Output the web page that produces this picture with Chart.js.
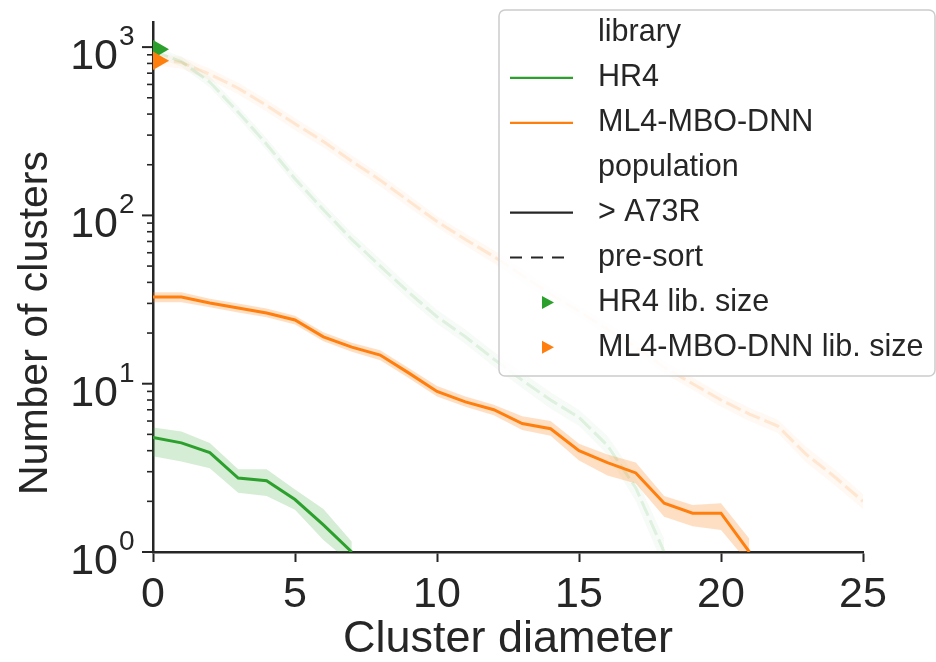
<!DOCTYPE html>
<html>
<head>
<meta charset="utf-8">
<title>Cluster diameter</title>
<script src="https://cdn.jsdelivr.net/npm/chart.js@4.4.1/dist/chart.umd.min.js"></script>
<style>
  body { margin: 0; background: #fff; }
  canvas { display: block; }
</style>
</head>
<body>
<canvas id="myChart" width="936" height="662"></canvas>
<script>
// x축: 클러스터 지름
const diameters = [0, 1, 2, 3, 4, 5, 6, 7, 8, 9, 10, 11, 12, 13, 14, 15, 16, 17, 18, 19, 20, 21, 22, 23, 24, 25];

// HR4 (> A73R) 평균과 신뢰구간
const hr4Sorted   = [4.8, 4.45, 3.9, 2.75, 2.65, 2.05, 1.45, 1.0];
const hr4SortedHi = [5.5, 5.2, 4.45, 3.1, 3.1, 2.35, 1.8, 1.15];
const hr4SortedLo = [3.7, 3.45, 3.15, 2.25, 2.15, 1.78, 1.18, 0.85];

// ML4-MBO-DNN (> A73R)
const ml4Sorted   = [32.7, 32.7, 30.2, 28.2, 26.3, 23.9, 19, 16.5, 14.8, 11.6, 9.0, 7.8, 7.0, 5.8, 5.4, 4.0, 3.4, 2.95, 1.95, 1.7, 1.7, 1.0];
const ml4SortedHi = [35, 35, 32, 30, 28, 25.3, 20.2, 17.5, 15.8, 12.4, 9.7, 8.4, 7.5, 6.4, 6.0, 4.4, 3.8, 3.4, 2.15, 1.9, 1.95, 1.2];
const ml4SortedLo = [30.5, 30.5, 28.5, 26.5, 24.8, 22.5, 17.9, 15.5, 13.8, 10.8, 8.4, 7.3, 6.5, 5.3, 4.9, 3.5, 2.85, 2.55, 1.62, 1.42, 1.35, 0.85];

// pre-sort 분포 (흐리게 그림)
const hr4Presort   = [950, 820, 620, 410, 265, 165, 108, 72, 50, 35, 25, 19, 14, 10.5, 8.0, 6.3, 4.3, 2.4, 1.0];
const hr4PresortHi = [1010, 880, 670, 445, 288, 180, 118, 79, 55, 38.5, 27.5, 21, 15.5, 11.7, 8.9, 7.0, 4.9, 2.8, 1.2];
const hr4PresortLo = [890, 765, 575, 378, 244, 151, 99, 66, 45.5, 31.5, 22.7, 17.2, 12.6, 9.4, 7.1, 5.6, 3.8, 2.0, 0.8];

const ml4Presort   = [850, 810, 690, 570, 450, 350, 275, 210, 162, 122, 92, 72, 57, 44, 34, 27, 21, 16.5, 12.5, 10, 8.0, 6.6, 5.6, 3.8, 2.8, 2.0];
const ml4PresortHi = [920, 875, 745, 615, 486, 378, 297, 227, 175, 132, 99, 78, 62, 48, 37, 29, 23, 18, 13.6, 10.9, 8.7, 7.2, 6.1, 4.2, 3.1, 2.2];
const ml4PresortLo = [785, 745, 635, 525, 414, 322, 253, 193, 149, 112, 85, 66, 52, 40, 31, 25, 19.3, 15.2, 11.5, 9.2, 7.3, 6.0, 5.1, 3.4, 2.5, 1.8];

// 라이브러리 크기 (x = 0 위치의 삼각형)
const hr4LibSize = 970;
const ml4LibSize = 830;

// y축 눈금 (10^n)
const decades = [1, 10, 100, 1000];
const decadeExponents = ['0', '1', '2', '3'];

const legendRows = [
  { text: 'library' },
  { text: 'HR4', line: 'green' },
  { text: 'ML4-MBO-DNN', line: 'orange' },
  { text: 'population' },
  { text: '> A73R', line: 'solid' },
  { text: 'pre-sort', line: 'dashed' },
  { text: 'HR4 lib. size', marker: 'green' },
  { text: 'ML4-MBO-DNN lib. size', marker: 'orange' }
];

const GREEN = '#2ca02c';
const ORANGE = '#ff7f0e';
const AXIS = '#262626';
const LEGEND_DASH = [12, 9];
const PRESORT_DASH = [16, 5];

function rgba(hex, a) {
  const n = parseInt(hex.slice(1), 16);
  return `rgba(${n >> 16}, ${(n >> 8) & 255}, ${n & 255}, ${a})`;
}

function toPoints(values) {
  return values.map((v, i) => ({ x: diameters[i], y: v }));
}

// 신뢰구간 띠 (hi -> lo 채우기)
function band(hi, lo, color, alpha, order) {
  return [
    { data: toPoints(hi), fill: '+1', backgroundColor: rgba(color, alpha), borderColor: 'rgba(0,0,0,0)', borderWidth: 0, pointRadius: 0, order },
    { data: toPoints(lo), fill: false, borderColor: 'rgba(0,0,0,0)', borderWidth: 0, pointRadius: 0, order }
  ];
}

function line(values, color, width, dash, order) {
  return { data: toPoints(values), fill: false, borderColor: color, borderWidth: width, borderDash: dash, pointRadius: 0, tension: 0, order };
}

const datasets = [
  ...band(ml4PresortHi, ml4PresortLo, ORANGE, 0.05, 9),
  line(ml4Presort, rgba(ORANGE, 0.15), 3, PRESORT_DASH, 8),
  ...band(hr4PresortHi, hr4PresortLo, GREEN, 0.04, 7),
  line(hr4Presort, rgba(GREEN, 0.12), 3, PRESORT_DASH, 6),
  ...band(hr4SortedHi, hr4SortedLo, GREEN, 0.2, 5),
  line(hr4Sorted, GREEN, 3, [], 4),
  ...band(ml4SortedHi, ml4SortedLo, ORANGE, 0.25, 3),
  line(ml4Sorted, ORANGE, 3, [], 2),
  { type: 'scatter', data: [{ x: 0, y: hr4LibSize }], pointStyle: 'triangle', rotation: 90, radius: 16, backgroundColor: GREEN, borderWidth: 0, clip: 0, order: 1 },
  { type: 'scatter', data: [{ x: 0, y: ml4LibSize }], pointStyle: 'triangle', rotation: 90, radius: 16, backgroundColor: ORANGE, borderWidth: 0, clip: 0, order: 0 }
];

// y축 로그 눈금, 라벨(10^n), 축 제목
const logAxisPlugin = {
  id: 'logAxis',
  afterDraw(chart) {
    const { ctx, chartArea } = chart;
    const y = chart.scales.y;
    const left = chartArea.left;
    ctx.save();
    ctx.strokeStyle = AXIS;
    ctx.fillStyle = AXIS;
    decades.forEach((d, i) => {
      const py = y.getPixelForValue(d);
      ctx.lineWidth = 2;
      ctx.beginPath();
      ctx.moveTo(left - 11, py);
      ctx.lineTo(left, py);
      ctx.stroke();
      for (let m = 2; m <= 9; m++) {
        const v = d * m;
        if (v > y.max) break;
        const pm = y.getPixelForValue(v);
        ctx.lineWidth = 1.6;
        ctx.beginPath();
        ctx.moveTo(left - 6, pm);
        ctx.lineTo(left, pm);
        ctx.stroke();
      }
      ctx.textBaseline = 'alphabetic';
      ctx.font = '28px "Liberation Sans"';
      ctx.textAlign = 'left';
      ctx.fillText(decadeExponents[i], 119, py - 2);
      ctx.font = '43px "Liberation Sans"';
      ctx.textAlign = 'right';
      ctx.fillText('10', 118, py + 22);
    });

    ctx.translate(47, 323);
    ctx.rotate(-Math.PI / 2);
    ctx.font = '41px "Liberation Sans"';
    ctx.textAlign = 'center';
    ctx.textBaseline = 'alphabetic';
    ctx.fillText('Number of clusters', 0, 0);
    ctx.restore();
  }
};

// 범례 (차트 영역 위에 겹쳐 그림)
const legendPlugin = {
  id: 'customLegend',
  afterDraw(chart) {
    const { ctx } = chart;
    const bx = 499, by = 10, bw = 436, bh = 366;
    ctx.save();
    ctx.beginPath();
    ctx.roundRect(bx, by, bw, bh, 6);
    ctx.fillStyle = 'rgba(255,255,255,0.85)';
    ctx.fill();
    ctx.strokeStyle = '#cccccc';
    ctx.lineWidth = 1.5;
    ctx.stroke();

    ctx.font = '30.5px "Liberation Sans"';
    ctx.textBaseline = 'middle';
    ctx.textAlign = 'left';
    legendRows.forEach((row, i) => {
      const cy = 33 + i * 44.9;
      if (row.line) {
        ctx.beginPath();
        ctx.lineWidth = 2.2;
        ctx.strokeStyle = row.line === 'green' ? GREEN : row.line === 'orange' ? ORANGE : AXIS;
        ctx.setLineDash(row.line === 'dashed' ? LEGEND_DASH : []);
        ctx.moveTo(510, cy);
        ctx.lineTo(573, cy);
        ctx.stroke();
        ctx.setLineDash([]);
      }
      if (row.marker) {
        ctx.beginPath();
        ctx.fillStyle = row.marker === 'green' ? GREEN : ORANGE;
        ctx.moveTo(554, cy);
        ctx.lineTo(542, cy - 6.5);
        ctx.lineTo(542, cy + 6.5);
        ctx.closePath();
        ctx.fill();
      }
      ctx.fillStyle = AXIS;
      ctx.fillText(row.text, 598, cy);
    });
    ctx.restore();
  }
};

const ctx = document.getElementById('myChart').getContext('2d');
Chart.defaults.font.family = '"Liberation Sans", Arial, sans-serif';
Chart.defaults.color = AXIS;

const myChart = new Chart(ctx, {
  type: 'line',
  data: { datasets },
  options: {
    responsive: false,
    animation: false,
    events: [],
    layout: { padding: { left: 0, top: 22, right: 73, bottom: 0 } },
    plugins: {
      legend: { display: false },
      tooltip: { enabled: false }
    },
    scales: {
      x: {
        type: 'linear',
        min: 0,
        max: 25,
        ticks: { stepSize: 5, padding: 7, color: AXIS, font: { size: 43 } },
        grid: { drawOnChartArea: false, drawTicks: true, tickLength: 10, tickWidth: 2, tickColor: AXIS },
        border: { color: AXIS, width: 2.5 },
        title: { display: true, text: 'Cluster diameter', color: AXIS, font: { size: 45, lineHeight: 1 }, padding: 0 },
        afterFit(scale) { scale.height = 110; }
      },
      y: {
        type: 'logarithmic',
        min: 1,
        max: 1410,
        ticks: { display: false },
        grid: { display: false },
        border: { color: AXIS, width: 2.5 },
        afterFit(scale) { scale.width = 153; }
      }
    }
  },
  plugins: [logAxisPlugin, legendPlugin]
});
</script>
</body>
</html>
